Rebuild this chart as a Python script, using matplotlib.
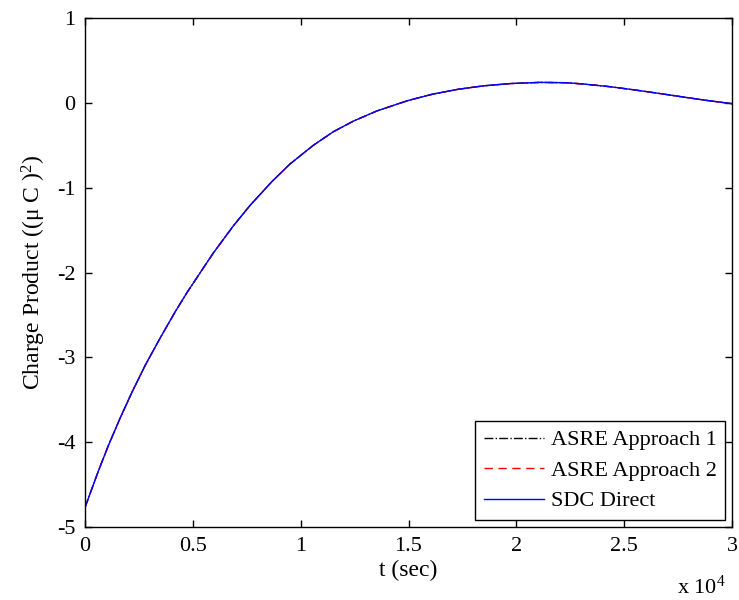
import matplotlib
matplotlib.use("Agg")
import matplotlib.pyplot as plt
from matplotlib.ticker import FuncFormatter, MultipleLocator

plt.rcParams['font.family'] = ['Liberation Serif', 'DejaVu Serif']
plt.rcParams['mathtext.fontset'] = 'custom'
plt.rcParams['mathtext.rm'] = 'Liberation Serif'
plt.rcParams['mathtext.it'] = 'Liberation Serif:italic'
plt.rcParams['axes.unicode_minus'] = False

# time (s)
t_sec = [0, 635, 1100, 1640, 2180, 2800, 3490, 4190, 4720, 5950, 6880, 7650,
         8660, 9510, 10590, 11520, 12440, 13530, 15000, 16150, 17310, 18470,
         19710, 21100, 22340, 23100, 24350, 25400, 26670, 27750, 28840, 30000]
# charge product ((uC)^2)
asre_1 = [-4.77, -4.33, -4.03, -3.71, -3.41, -3.09, -2.77, -2.46, -2.24, -1.77,
          -1.45, -1.21, -0.93, -0.72, -0.50, -0.34, -0.216, -0.096, 0.029, 0.104,
          0.16, 0.20, 0.227, 0.241, 0.237, 0.222, 0.19, 0.155, 0.109, 0.068,
          0.028, -0.01]
asre_2 = [-4.77, -4.33, -4.03, -3.71, -3.41, -3.09, -2.77, -2.46, -2.24, -1.77,
          -1.45, -1.21, -0.93, -0.72, -0.50, -0.34, -0.216, -0.096, 0.029, 0.104,
          0.16, 0.20, 0.227, 0.241, 0.237, 0.222, 0.19, 0.155, 0.109, 0.068,
          0.028, -0.01]
sdc_direct = [-4.77, -4.33, -4.03, -3.71, -3.41, -3.09, -2.77, -2.46, -2.24, -1.77,
              -1.45, -1.21, -0.93, -0.72, -0.50, -0.34, -0.216, -0.096, 0.029, 0.104,
              0.16, 0.20, 0.227, 0.241, 0.237, 0.222, 0.19, 0.155, 0.109, 0.068,
              0.028, -0.01]
labels = ['ASRE Approach 1', 'ASRE Approach 2', 'SDC Direct']

fig = plt.figure(figsize=(7.39, 6.0), dpi=100)
ax = fig.add_axes([85 / 739, 1 - 527 / 600, (732 - 85) / 739, (527 - 18) / 600])

ax.plot(t_sec, asre_1, color='black', linestyle='-.', lw=1.0, label=labels[0])
ax.plot(t_sec, asre_2, color='red', linestyle=(0, (6, 4)), lw=1.0, label=labels[1])
ax.plot(t_sec, sdc_direct, color='blue', linestyle='-', lw=1.0, label=labels[2])

ax.set_xlim(0, 30000)
ax.set_ylim(-5, 1)
ax.xaxis.set_major_locator(MultipleLocator(5000))
ax.yaxis.set_major_locator(MultipleLocator(1))
ax.xaxis.set_major_formatter(FuncFormatter(lambda v, p: f"{v / 1e4:g}"))
ax.yaxis.set_major_formatter(FuncFormatter(lambda v, p: f"{v:g}"))
ax.tick_params(direction='in', top=True, right=True, length=5, width=1,
               labelsize=16, pad=7, colors='black')
for s in ax.spines.values():
    s.set_linewidth(1.0)
    s.set_color('black')

ax.set_xlabel('t (sec)', fontsize=17, labelpad=3)
ax.set_ylabel(r'Charge Product ((μ C )$^2$)', fontsize=17, labelpad=6)
fig.text(677 / 739, 1 - 594 / 600, r'x 10$^4$', fontsize=16, ha='left', va='baseline')

leg = ax.legend(loc='lower right', fontsize=16, frameon=True, fancybox=False,
                framealpha=1, edgecolor='black', borderaxespad=0.3,
                handlelength=2.7, labelspacing=0.45, handletextpad=0.3,
                borderpad=0.4)
leg.get_frame().set_linewidth(1.0)

fig.savefig('out.png', dpi=100, facecolor='white')
